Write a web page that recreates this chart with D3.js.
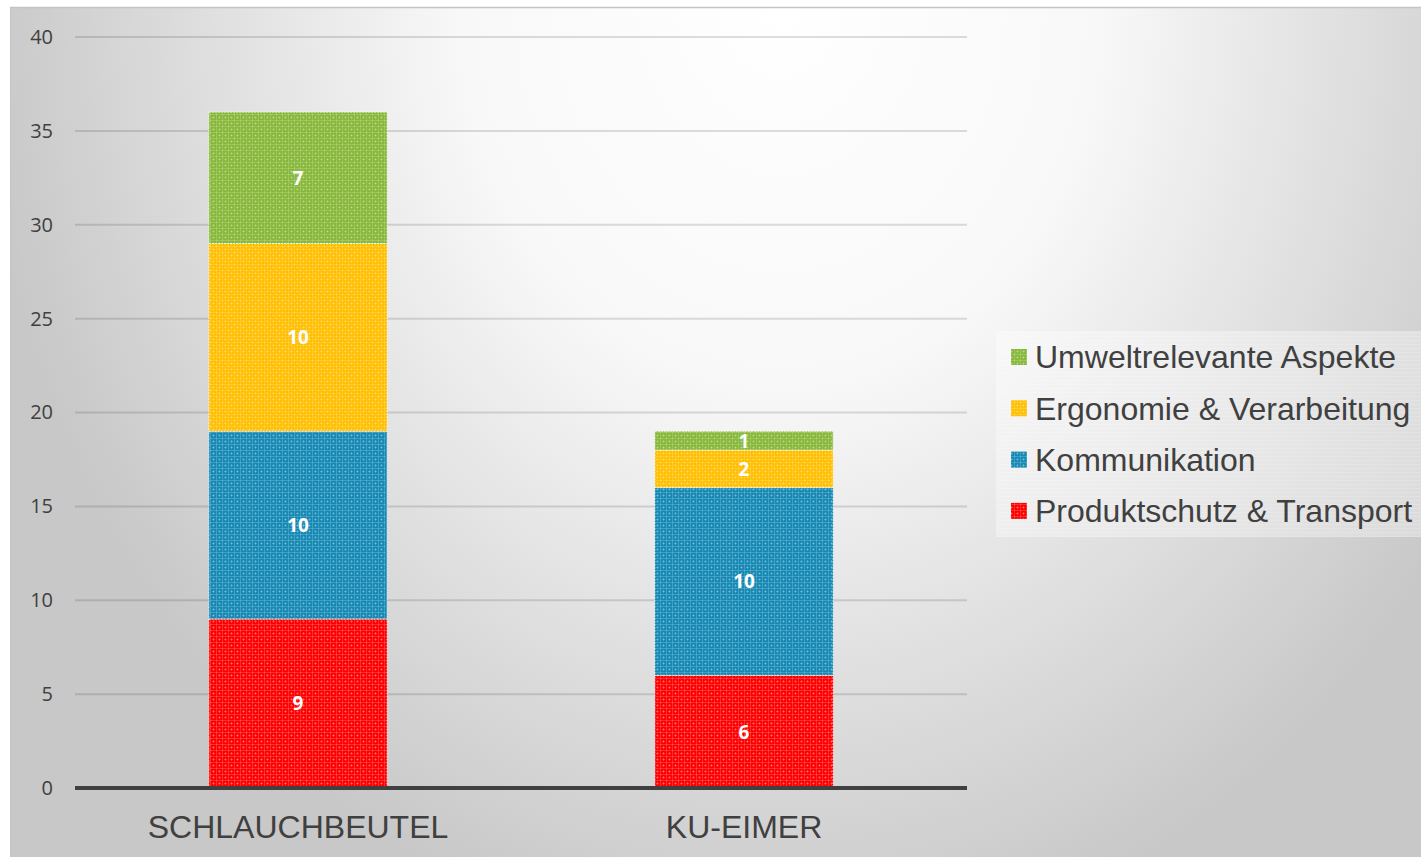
<!DOCTYPE html>
<html>
<head>
<meta charset="utf-8">
<script src="https://cdn.jsdelivr.net/npm/d3@7"></script>
<style>
  html, body { margin: 0; padding: 0; background: #ffffff; }
  svg { display: block; }
</style>
</head>
<body>
<svg id="chart" width="1421" height="857"></svg>
<script>
// ---- data ----
const categories = ["SCHLAUCHBEUTEL", "KU-EIMER"];
const seriesNames = ["Produktschutz & Transport", "Kommunikation", "Ergonomie & Verarbeitung", "Umweltrelevante Aspekte"];
const produktschutz = [9, 6];
const kommunikation = [10, 10];
const ergonomie = [10, 2];
const umwelt = [7, 1];
const yTicks = [0, 5, 10, 15, 20, 25, 30, 35, 40];
const seriesColors = ["#ff0000", "#1589b4", "#ffbf00", "#88b83a"];

const seriesValues = [produktschutz, kommunikation, ergonomie, umwelt];
const table = categories.map((c, i) => {
  const row = { category: c };
  seriesNames.forEach((s, j) => row[s] = seriesValues[j][i]);
  return row;
});

const svg = d3.select("#chart");
const W = 1421, H = 857;
const margin = { left: 75, right: 454, top: 37, bottom: 69 };
const plotL = margin.left, plotR = W - margin.right, plotT = margin.top, plotB = H - margin.bottom;

const defs = svg.append("defs");
// background gradient
const rg = defs.append("radialGradient")
  .attr("id", "bg").attr("gradientUnits", "userSpaceOnUse")
  .attr("cx", 780).attr("cy", 0).attr("r", 800)
  .attr("gradientTransform", "translate(780,0) scale(1,1.2) translate(-780,0)");
[[0, "#ffffff"], [0.4, "#f8f8f8"], [0.65, "#e4e4e4"], [1, "#c8c8c8"]].forEach(s =>
  rg.append("stop").attr("offset", s[0]).attr("stop-color", s[1]));

// bar patterns
seriesColors.forEach((col, i) => {
  const p = defs.append("pattern").attr("id", "pat" + i)
    .attr("patternUnits", "userSpaceOnUse").attr("width", 6).attr("height", 6);
  p.append("rect").attr("width", 6).attr("height", 6).attr("fill", col);
  p.append("rect").attr("x", 0).attr("y", 0).attr("width", 6).attr("height", 1).attr("fill", "#ffffff").attr("opacity", 0.18);
  p.append("rect").attr("x", 0).attr("y", 0).attr("width", 1).attr("height", 6).attr("fill", "#ffffff").attr("opacity", 0.18);
  p.append("rect").attr("x", 3).attr("y", 2).attr("width", 1).attr("height", 3).attr("fill", "#ffffff").attr("opacity", 0.22);
  p.append("rect").attr("x", 2).attr("y", 3).attr("width", 3).attr("height", 1).attr("fill", "#ffffff").attr("opacity", 0.22);
});
// legend box pattern
const lp = defs.append("pattern").attr("id", "legpat")
  .attr("patternUnits", "userSpaceOnUse").attr("width", 4).attr("height", 4);
lp.append("rect").attr("width", 4).attr("height", 4).attr("fill", "#ffffff").attr("opacity", 0.32);
lp.append("rect").attr("width", 4).attr("height", 1).attr("fill", "#ffffff").attr("opacity", 0.15);

// background
svg.append("rect").attr("x", 10).attr("y", 7).attr("width", W - 10).attr("height", H - 7)
  .attr("fill", "url(#bg)");
svg.append("line").attr("x1", 10).attr("x2", W).attr("y1", 7.5).attr("y2", 7.5)
  .attr("stroke", "#c4c4c4").attr("stroke-width", 1.5);
svg.append("line").attr("x1", 10.5).attr("x2", 10.5).attr("y1", 7).attr("y2", H)
  .attr("stroke", "#c4c4c4").attr("stroke-width", 1);

// scales
const x = d3.scaleBand().domain(categories).range([plotL, plotR]).paddingInner(0.6).paddingOuter(0.3);
const y = d3.scaleLinear().domain([0, 40]).range([plotB, plotT]);

// gridlines
svg.append("g").selectAll("line").data(yTicks.filter(t => t > 0)).join("line")
  .attr("x1", plotL).attr("x2", plotR)
  .attr("y1", d => y(d)).attr("y2", d => y(d))
  .attr("stroke", "rgba(0,0,0,0.13)").attr("stroke-width", 2);

// y axis labels
const yAxis = d3.axisLeft(y).tickValues(yTicks).tickSize(0).tickPadding(0);
const ya = svg.append("g").attr("transform", `translate(${plotL - 22},0)`).call(yAxis);
ya.select(".domain").remove();
ya.selectAll("text").attr("font-family", "'Open Sans', sans-serif").attr("font-size", 20)
  .attr("fill", "#404040");

// stack
const stack = d3.stack().keys(seriesNames);
const stacked = stack(table);

const layers = svg.append("g").selectAll("g").data(stacked).join("g")
  .attr("fill", (d, i) => `url(#pat${i})`);
layers.selectAll("rect").data(d => d.map(v => ({ v, cat: v.data.category }))).join("rect")
  .attr("x", d => x(d.cat))
  .attr("width", x.bandwidth())
  .attr("y", d => y(d.v[1]))
  .attr("height", d => y(d.v[0]) - y(d.v[1]))
  .attr("stroke", "rgba(255,255,255,0.75)").attr("stroke-width", 1)
  .attr("stroke-dasharray", "2,1");

// data labels
const lbl = svg.append("g");
stacked.forEach(layer => {
  layer.forEach(v => {
    const val = v[1] - v[0];
    lbl.append("text")
      .attr("x", x(v.data.category) + x.bandwidth() / 2)
      .attr("y", y((v[0] + v[1]) / 2))
      .attr("dy", "0.36em")
      .attr("text-anchor", "middle")
      .attr("font-family", "'Open Sans', sans-serif").attr("font-weight", "bold")
      .attr("font-size", 19).attr("fill", "#ffffff")
      .text(val);
  });
});

// x axis
const xAxis = d3.axisBottom(x).tickSize(0).tickPadding(0);
const xa = svg.append("g").attr("transform", `translate(0,${plotB})`).call(xAxis);
xa.select(".domain").remove();
xa.selectAll("text").attr("font-family", "'Liberation Sans', Arial, sans-serif").attr("font-size", 32)
  .attr("fill", "#404040").attr("dy", null).attr("y", 50);
svg.append("line").attr("x1", plotL).attr("x2", plotR).attr("y1", plotB).attr("y2", plotB)
  .attr("stroke", "#404040").attr("stroke-width", 4);

// legend
const leg = svg.append("g");
leg.append("rect").attr("x", 996).attr("y", 331).attr("width", W - 996).attr("height", 206)
  .attr("fill", "url(#legpat)");
const legendOrder = seriesNames.map((s, i) => ({ s, i })).reverse();
legendOrder.forEach((d, k) => {
  const cy = 357 + k * 51.3;
  leg.append("rect").attr("x", 1011).attr("y", cy - 8).attr("width", 16).attr("height", 16)
    .attr("fill", `url(#pat${d.i})`);
  leg.append("text").attr("x", 1035).attr("y", cy).attr("dy", "0.35em")
    .attr("font-family", "'Liberation Sans', Arial, sans-serif").attr("font-size", 32)
    .attr("fill", "#404040").text(d.s);
});
</script>
</body>
</html>
